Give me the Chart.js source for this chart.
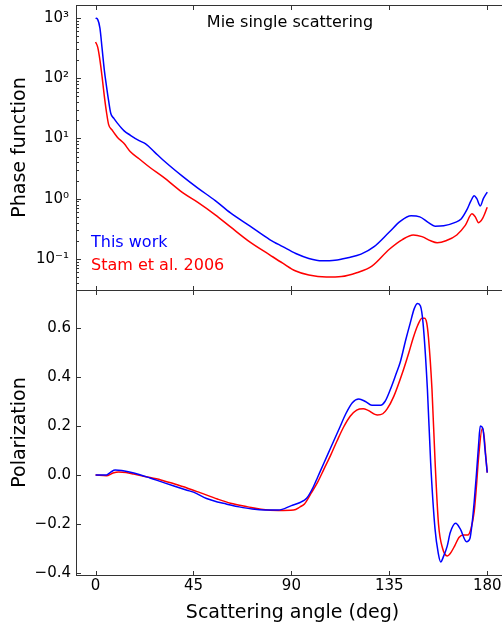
<!DOCTYPE html>
<html>
<head>
<meta charset="utf-8">
<script src="https://cdn.jsdelivr.net/npm/chart.js@4/dist/chart.umd.min.js"></script>
<style>
  html, body { margin: 0; padding: 0; background: #fff; overflow: hidden; }
  #wrap { position: relative; width: 502px; height: 627px; overflow: hidden; }
  canvas { position: absolute; left: 0; }
  #phase { top: 0; }
  #pol { top: 285px; }
</style>
</head>
<body>
<div id="wrap">
  <canvas id="phase" width="560" height="295"></canvas>
  <canvas id="pol" width="560" height="342"></canvas>
</div>
<script>
// Scattering angles (deg) and phase function, this work
const phaseAnglesWork = [0, 1, 2, 3, 4, 5, 6, 7, 8.4, 10, 13, 16, 20, 23, 27, 31, 40, 47, 55, 62, 71, 80, 86, 92, 98, 104, 110, 116, 122, 128, 135, 140, 145, 149, 153, 156, 160, 165, 168, 170.6, 172.5, 174, 175.2, 176.8, 178.2, 180];
const phaseWork = [1000, 940, 680, 310, 138, 74, 42, 26, 21.5, 18, 13.5, 11.3, 9.2, 8.1, 6.0, 4.4, 2.35, 1.5, 0.93, 0.58, 0.35, 0.21, 0.16, 0.123, 0.102, 0.093, 0.095, 0.105, 0.12, 0.16, 0.28, 0.42, 0.52, 0.50, 0.40, 0.35, 0.355, 0.40, 0.46, 0.65, 0.92, 1.12, 1.0, 0.76, 1.0, 1.29];

// Phase function, Stam et al. 2006
const phaseAnglesStam = [0, 1, 2, 3, 4, 5, 6, 7.6, 10, 13, 16, 20, 25, 31, 40, 47, 55, 62, 71, 80, 86, 92, 98, 106, 113, 120, 127, 135, 141, 146, 150, 154, 157, 161, 166, 169.9, 173, 174.5, 176, 178, 180];
const phaseStam = [400, 325, 200, 105, 51, 27.5, 17, 13.8, 10.5, 8.3, 6.0, 4.6, 3.3, 2.3, 1.26, 0.87, 0.54, 0.34, 0.19, 0.117, 0.085, 0.063, 0.054, 0.050, 0.051, 0.059, 0.076, 0.145, 0.21, 0.25, 0.235, 0.20, 0.186, 0.20, 0.25, 0.36, 0.56, 0.50, 0.40, 0.48, 0.72];

// Degree of polarization, this work
const polAnglesWork = [0, 5, 7, 9, 12, 15, 20, 25, 30, 36, 42, 45, 51, 56, 60, 66, 72, 78, 84, 90, 94, 97, 100, 102, 105, 108, 112, 115, 118, 121, 124, 127, 131, 133, 135.5, 138, 140, 142.5, 144.6, 146.5, 148, 149.3, 150.5, 152.5, 154, 156, 157.5, 158.6, 160, 161.6, 163, 165.5, 167.6, 170.5, 172, 173, 174, 175, 176, 176.8, 178, 179, 180];
const polWork = [0, 0, 0.012, 0.02, 0.018, 0.013, 0.002, -0.012, -0.027, -0.045, -0.062, -0.07, -0.096, -0.11, -0.118, -0.13, -0.139, -0.143, -0.143, -0.125, -0.112, -0.095, -0.05, -0.01, 0.05, 0.11, 0.19, 0.25, 0.295, 0.31, 0.30, 0.285, 0.285, 0.30, 0.35, 0.41, 0.46, 0.55, 0.62, 0.68, 0.70, 0.69, 0.62, 0.35, 0.05, -0.22, -0.32, -0.355, -0.33, -0.29, -0.235, -0.197, -0.22, -0.272, -0.26, -0.2, -0.11, 0.0, 0.12, 0.2, 0.19, 0.1, 0.01];

// Degree of polarization, Stam et al. 2006
const polAnglesStam = [0, 5, 8, 10.6, 14, 17.5, 22, 30, 36, 42, 48, 56, 62, 70, 76, 84, 91, 94, 96, 99, 102, 105, 108, 111, 114, 117, 120, 123, 125, 129.5, 132, 134, 137, 141.5, 144, 146, 148, 150, 151.2, 152.2, 153, 154.6, 156, 157.6, 159.5, 161.6, 163, 165, 167, 169, 171, 172.5, 174, 175, 176, 177.7, 178.6, 179.3, 180];
const polStam = [0, -0.003, 0.008, 0.012, 0.01, 0.004, -0.005, -0.02, -0.036, -0.053, -0.072, -0.098, -0.115, -0.13, -0.14, -0.145, -0.143, -0.13, -0.118, -0.075, -0.03, 0.025, 0.08, 0.14, 0.196, 0.24, 0.265, 0.27, 0.265, 0.245, 0.25, 0.27, 0.32, 0.43, 0.5, 0.56, 0.61, 0.64, 0.64, 0.62, 0.56, 0.35, 0.06, -0.2, -0.30, -0.33, -0.32, -0.29, -0.255, -0.245, -0.245, -0.22, -0.15, -0.05, 0.07, 0.19, 0.155, 0.08, 0.01];

const angleTicks = [0, 45, 90, 135, 180];
const phaseTicks = [0.1, 1, 10, 100, 1000];
const phaseTickLabels = ['10\u207B\u00B9', '10\u2070', '10\u00B9', '10\u00B2', '10\u00B3'];
const polTicks = [-0.4, -0.2, 0, 0.2, 0.4, 0.6];
const polTickLabels = ['\u22120.4', '\u22120.2', '0.0', '0.2', '0.4', '0.6'];

const FONT = 'DejaVu Sans';
Chart.defaults.color = '#000';
Chart.defaults.font.family = FONT;

const toPoints = (xs, ys) => xs.map((x, i) => ({ x: x, y: ys[i] }));

// box around the plot area with inward ticks (matplotlib style)
const framePlugin = {
  id: 'frame',
  afterDatasetsDraw(chart, args, opts) {
    const { ctx, chartArea: a, scales } = chart;
    const seg = (x1, y1, x2, y2) => { ctx.beginPath(); ctx.moveTo(x1, y1); ctx.lineTo(x2, y2); ctx.stroke(); };
    ctx.save();
    ctx.strokeStyle = '#333';
    ctx.lineWidth = 1;
    const L = Math.round(a.left) + 0.5, T = Math.round(a.top) + 0.5;
    const R = Math.round(a.right) + 0.5, B = Math.round(a.bottom) + 0.5;
    ctx.strokeRect(L, T, R - L, B - T);
    for (const v of angleTicks) {
      const px = Math.round(scales.x.getPixelForValue(v)) + 0.5;
      seg(px, T, px, T + 4.5);
      seg(px, B, px, B - 4.5);
    }
    for (const t of scales.y.ticks) {
      const py = Math.round(scales.y.getPixelForValue(t.value)) + 0.5;
      seg(L, py, L + 4.5, py);
    }
    if (opts.minorLog) {
      for (let d = -2; d <= 3; d++) {
        for (let k = 2; k <= 9; k++) {
          const v = k * Math.pow(10, d);
          if (v < scales.y.min || v > scales.y.max) continue;
          const py = Math.round(scales.y.getPixelForValue(v)) + 0.5;
          seg(L, py, L + 2.5, py);
        }
      }
    }
    ctx.restore();
  }
};

// panel caption and coloured series names
const notesPlugin = {
  id: 'notes',
  afterDraw(chart, args, opts) {
    if (!opts.show) return;
    const { ctx, chartArea: a } = chart;
    ctx.save();
    ctx.font = '16px "' + FONT + '"';
    ctx.textBaseline = 'alphabetic';
    ctx.fillStyle = '#000';
    ctx.textAlign = 'center';
    ctx.fillText('Mie single scattering', 290, a.top + 22);
    ctx.textAlign = 'left';
    chart.data.datasets.forEach((ds, i) => {
      ctx.fillStyle = ds.borderColor;
      ctx.fillText(ds.label, a.left + 15, a.bottom - 43 + i * 23);
    });
    ctx.restore();
  }
};

function xScale(showLabels) {
  return {
    type: 'linear',
    min: -9,
    max: 190,
    display: showLabels,
    grid: { display: false, drawTicks: false },
    border: { display: false },
    afterBuildTicks: (s) => { s.ticks = angleTicks.map(v => ({ value: v })); },
    afterFit: (s) => { s.height = showLabels ? 52 : 0; s.paddingLeft = 0; s.paddingRight = 0; },
    ticks: { autoSkip: false, maxRotation: 0, padding: 2, font: { size: 15 } },
    title: { display: true, text: 'Scattering angle (deg)', font: { size: 19 }, padding: { top: 0, bottom: 3 } }
  };
}

function yBase(title) {
  return {
    grid: { display: false, drawTicks: false },
    border: { display: false },
    afterFit: (s) => { s.width = 76; s.paddingTop = 0; s.paddingBottom = 0; },
    title: { display: true, text: title, font: { size: 19 }, padding: { top: 9, bottom: 0 } }
  };
}

const common = {
  responsive: false,
  animation: false,
  events: [],
  plugins: { legend: { display: false }, tooltip: { enabled: false } },
  elements: { point: { radius: 0 }, line: { borderWidth: 1.5, cubicInterpolationMode: 'monotone' } }
};

new Chart(document.getElementById('phase'), {
  type: 'line',
  data: {
    datasets: [
      { label: 'This work', data: toPoints(phaseAnglesWork, phaseWork), borderColor: '#0000ff' },
      { label: 'Stam et al. 2006', data: toPoints(phaseAnglesStam, phaseStam), borderColor: '#ff0000' }
    ]
  },
  options: {
    ...common,
    layout: { padding: { top: 5, right: 51, bottom: 5, left: 0 } },
    plugins: { ...common.plugins, frame: { minorLog: true }, notes: { show: true } },
    scales: {
      x: xScale(false),
      y: {
        ...yBase('Phase function'),
        type: 'logarithmic',
        min: 0.0305,
        max: 1644,
        afterBuildTicks: (s) => { s.ticks = phaseTicks.map(v => ({ value: v })); },
        ticks: {
          autoSkip: false,
          padding: 7,
          font: { size: 15 },
          callback: (v) => phaseTickLabels[phaseTicks.indexOf(v)]
        }
      }
    }
  },
  plugins: [framePlugin, notesPlugin]
});

new Chart(document.getElementById('pol'), {
  type: 'line',
  data: {
    datasets: [
      { label: 'This work', data: toPoints(polAnglesWork, polWork), borderColor: '#0000ff' },
      { label: 'Stam et al. 2006', data: toPoints(polAnglesStam, polStam), borderColor: '#ff0000' }
    ]
  },
  options: {
    ...common,
    layout: { padding: { top: 5, right: 51, bottom: 0, left: 0 } },
    plugins: { ...common.plugins, frame: { minorLog: false }, notes: { show: false } },
    scales: {
      x: xScale(true),
      y: {
        ...yBase('Polarization'),
        type: 'linear',
        min: -0.408,
        max: 0.755,
        afterBuildTicks: (s) => { s.ticks = polTicks.map(v => ({ value: v })); },
        ticks: {
          autoSkip: false,
          padding: 5,
          font: { size: 15 },
          callback: (v, i) => polTickLabels[i]
        }
      }
    }
  },
  plugins: [framePlugin, notesPlugin]
});
</script>
</body>
</html>
